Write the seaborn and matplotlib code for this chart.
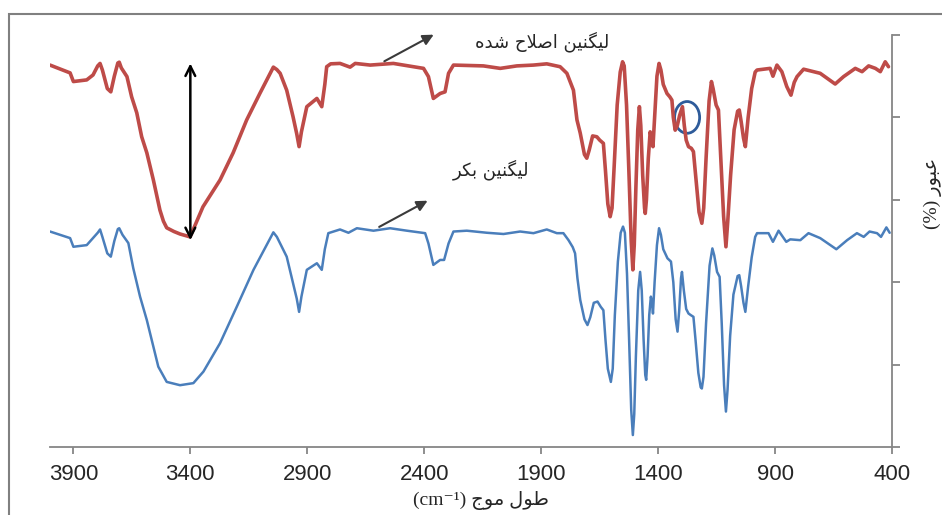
import matplotlib
matplotlib.use('Agg')
import matplotlib.pyplot as plt
import seaborn as sns
import pandas as pd
from matplotlib.patches import Ellipse, Rectangle

# modified lignin (red, upper trace)
wn_mod = [4000, 3914, 3900, 3843, 3816, 3796, 3786, 3776, 3755, 3740, 3725, 3710, 3704, 3695, 3671, 3651,
          3629, 3608, 3586, 3558, 3530, 3515, 3501, 3470, 3444, 3401, 3346, 3273, 3217, 3159, 3102, 3060,
          3045, 3030, 3016, 2988, 2961, 2945, 2935, 2925, 2902, 2859, 2838, 2825, 2817, 2800, 2760, 2717,
          2695, 2631, 2532, 2403, 2382, 2361, 2332, 2311, 2296, 2275, 2147, 2075, 2004, 1933, 1876, 1819,
          1790, 1762, 1747, 1733, 1715, 1705, 1695, 1680, 1662, 1650, 1634, 1625, 1615, 1605, 1597, 1588,
          1575, 1562, 1552, 1545, 1535, 1525, 1515, 1508, 1502, 1495, 1487, 1480, 1474, 1466, 1458, 1455,
          1450, 1442, 1434, 1428, 1422, 1415, 1405, 1396, 1388, 1378, 1362, 1350, 1341, 1335, 1327, 1318,
          1308, 1296, 1288, 1280, 1270, 1258, 1249, 1238, 1225, 1213, 1205, 1195, 1182, 1172, 1165, 1152,
          1142, 1132, 1120, 1110, 1102, 1090, 1075, 1060, 1053, 1045, 1035, 1027, 1015, 1000, 985, 977,
          921, 909, 892, 871, 850, 832, 818, 806, 778, 707, 643, 607, 557, 528, 500, 471, 450, 429, 415]
t_mod = [92.7, 90.8, 88.7, 89.1, 90.3, 92.5, 93.1, 91.5, 87.0, 86.2, 90.0, 93.2, 93.4, 92.0, 89.9, 85.0,
         81.1, 75.3, 71.4, 64.8, 57.5, 54.8, 53.2, 52.3, 51.7, 51.0, 58.3, 64.8, 71.4, 79.4, 85.9, 90.5,
         92.2, 91.6, 90.7, 86.6, 80.2, 76.0, 72.9, 76.5, 82.6, 84.6, 82.6, 88.0, 92.3, 93.0, 93.1, 92.2,
         93.1, 92.7, 93.1, 91.9, 89.9, 84.6, 85.8, 86.2, 90.7, 92.7, 92.5, 91.9, 92.5, 92.7, 93.0, 92.3,
         90.7, 86.6, 79.4, 76.2, 71.0, 70.1, 72.0, 75.5, 75.3, 74.5, 73.7, 67.0, 59.0, 55.9, 58.0, 68.0,
         83.0, 91.0, 93.5, 92.5, 83.0, 67.0, 50.0, 43.0, 49.0, 63.0, 77.0, 82.6, 78.0, 66.0, 58.0, 56.7,
         60.0, 70.0, 76.5, 75.0, 72.9, 80.0, 90.0, 93.1, 91.5, 88.0, 85.8, 85.0, 84.2, 80.0, 76.9, 78.0,
         80.5, 82.6, 78.0, 74.5, 72.9, 72.5, 71.7, 65.0, 57.0, 54.3, 58.0, 70.0, 84.0, 88.7, 87.0, 83.0,
         81.8, 70.0, 56.0, 48.6, 55.0, 66.0, 77.0, 81.5, 81.8, 79.0, 75.0, 72.9, 80.0, 87.0, 91.0, 91.5,
         91.9, 90.0, 92.7, 91.1, 87.5, 85.4, 88.5, 89.9, 91.7, 90.7, 88.1, 89.9, 91.9, 91.1, 92.5, 91.9,
         91.1, 93.5, 92.3]

# raw lignin (blue, lower trace)
wn_raw = [4000, 3914, 3900, 3843, 3796, 3786, 3776, 3755, 3740, 3725, 3710, 3704, 3690, 3665, 3644, 3615,
          3586, 3558, 3537, 3501, 3444, 3387, 3344, 3273, 3201, 3130, 3060, 3045, 3030, 2988, 2945, 2935,
          2925, 2902, 2859, 2838, 2825, 2810, 2760, 2724, 2688, 2617, 2546, 2474, 2396, 2382, 2361, 2332,
          2315, 2296, 2275, 2218, 2132, 2061, 1990, 1933, 1876, 1833, 1805, 1783, 1765, 1755, 1745, 1733,
          1715, 1702, 1690, 1675, 1659, 1645, 1634, 1625, 1615, 1602, 1594, 1585, 1572, 1560, 1550, 1542,
          1533, 1524, 1515, 1508, 1502, 1495, 1485, 1477, 1470, 1462, 1455, 1451, 1445, 1438, 1431, 1426,
          1422, 1415, 1405, 1396, 1388, 1378, 1360, 1345, 1335, 1325, 1317, 1310, 1302, 1298, 1290, 1280,
          1270, 1260, 1249, 1240, 1228, 1218, 1213, 1206, 1195, 1180, 1168, 1160, 1148, 1137, 1128, 1118,
          1110, 1103, 1092, 1078, 1060, 1053, 1045, 1035, 1027, 1015, 1000, 985, 977, 928, 909, 885,
          852, 835, 792, 757, 707, 638, 592, 550, 521, 496, 464, 447, 424, 410]
t_raw = [52.3, 50.7, 48.6, 49.0, 52.0, 52.8, 51.0, 47.0, 46.2, 50.0, 52.9, 53.1, 51.5, 49.5, 43.4, 36.5,
         30.8, 24.3, 19.5, 15.8, 15.0, 15.5, 18.3, 25.2, 34.1, 43.0, 50.5, 52.1, 51.0, 46.2, 36.0, 32.8,
         36.5, 43.0, 44.6, 43.0, 48.0, 51.9, 52.8, 52.0, 53.1, 52.5, 53.1, 52.5, 51.9, 49.4, 44.2, 45.4,
         45.4, 49.4, 52.3, 52.5, 52.0, 51.7, 52.3, 51.9, 52.8, 51.9, 51.9, 50.2, 48.5, 47.0, 41.0, 35.7,
         31.0, 29.6, 31.5, 35.0, 35.3, 34.0, 33.2, 26.0, 19.0, 15.8, 19.0, 32.0, 45.0, 52.0, 53.5, 52.0,
         42.0, 26.0, 9.0, 2.9, 8.0, 22.0, 38.0, 42.5, 38.0, 26.0, 17.5, 16.3, 22.0, 32.0, 36.5, 35.0,
         32.4, 40.0, 49.0, 53.1, 51.5, 48.0, 45.8, 45.0, 40.0, 31.0, 28.0, 33.0, 41.0, 42.5, 38.0, 33.5,
         32.4, 32.0, 31.6, 26.0, 18.0, 14.5, 14.2, 17.0, 30.0, 44.0, 48.2, 46.5, 42.5, 41.3, 30.0, 15.0,
         8.6, 14.0, 27.0, 37.0, 41.5, 41.7, 39.0, 35.0, 32.8, 39.0, 46.0, 51.0, 51.9, 51.9, 49.8, 52.5,
         49.8, 50.4, 50.2, 51.9, 50.7, 48.0, 50.2, 51.9, 51.0, 52.3, 51.9, 51.0, 53.3, 52.0]

xticks = [3900, 3400, 2900, 2400, 1900, 1400, 900, 400]
yticks = [0, 20, 40, 60, 80, 100]

# persian words written in presentation forms, visual (left to right) order
lignin = '\uFEE6\uFBFF\uFEE8\uFB95\uFBFF\uFEDF'
label_mod = '\uFEE9\uFEAA\uFEB7' + ' ' + '\uFEA1\uFEFC\uFEBB\uFE8D' + ' ' + lignin
label_raw = '\uFEAE\uFB91\uFE91' + ' ' + lignin
xlabel = '(cm\u207B\u00B9) ' + '\uFE9D\uFEEE\uFEE3' + ' ' + '\uFEDD\uFEEE\uFEC3'
ylabel = '(%) ' + '\uFEAD\uFEEE\uFE92\uFECB'

sns.set_style('white')
plt.rcParams['font.family'] = ['Liberation Sans', 'DejaVu Sans']

df_mod = pd.DataFrame({'wn': wn_mod, 't': t_mod})
df_raw = pd.DataFrame({'wn': wn_raw, 't': t_raw})

fig = plt.figure(figsize=(9.42, 5.15), dpi=100)
ax = fig.add_axes([50 / 942, 1 - 447 / 515, 842 / 942, 412 / 515])

sns.lineplot(data=df_raw, x='wn', y='t', ax=ax, color='#4A7EBB', lw=1.8, estimator=None, sort=False)
sns.lineplot(data=df_mod, x='wn', y='t', ax=ax, color='#BE4B48', lw=2.6, estimator=None, sort=False)
for ln in ax.lines:
    ln.set_solid_joinstyle('round')

ax.set_xlim(4000, 400)
ax.set_ylim(0, 100)
ax.set_xticks(xticks)
ax.set_xticklabels([str(v) for v in xticks])
ax.yaxis.tick_right()
ax.set_yticks(yticks)
ax.set_yticklabels([])
ax.set_xlabel('')
ax.set_ylabel('')

for s in ['left', 'top']:
    ax.spines[s].set_visible(False)
for s in ['right', 'bottom']:
    ax.spines[s].set_color('#868686')
    ax.spines[s].set_linewidth(1.3)
ax.tick_params(axis='x', direction='out', length=5, width=1.3, color='#868686', labelsize=16, pad=7,
               bottom=True)
ax.tick_params(axis='y', direction='out', length=6, width=1.3, color='#868686', right=True, left=False)

# labels and arrows
ax.text(1896, 98.5, label_mod, ha='center', va='center', fontsize=13, family='DejaVu Sans')
ax.text(2114, 67.2, label_raw, ha='center', va='center', fontsize=13, family='DejaVu Sans')
ax.annotate('', xy=(2349, 100.4), xytext=(2581, 93.3), annotation_clip=False,
            arrowprops=dict(arrowstyle='-|>', color='#3a3a3a', lw=1.5, mutation_scale=16))
ax.annotate('', xy=(2375, 60.1), xytext=(2603, 53.1), annotation_clip=False,
            arrowprops=dict(arrowstyle='-|>', color='#3a3a3a', lw=1.5, mutation_scale=16))
ax.annotate('', xy=(3400, 50.2), xytext=(3400, 93.1),
            arrowprops=dict(arrowstyle='<->,head_length=0.7,head_width=0.35', color='black', lw=1.8,
                            shrinkA=0, shrinkB=0))
ax.add_patch(Ellipse((1276, 80), width=107, height=7.7, fill=False, ec='#2E5B9A', lw=2))

fig.text(481 / 942, 1 - 500 / 515, xlabel, ha='center', va='center', fontsize=14,
         family=['Liberation Serif', 'DejaVu Sans'])
fig.text(933 / 942, 1 - 193 / 515, ylabel, ha='center', va='center', rotation=90, fontsize=14,
         family=['Liberation Serif', 'DejaVu Sans'])

# outer frame of the original figure
fig.add_artist(Rectangle((9 / 942, -0.1), 1.2, 1.1 - 14 / 515, transform=fig.transFigure,
                         fill=False, ec='#808080', lw=1.5))

fig.savefig('out.png', dpi=100)
